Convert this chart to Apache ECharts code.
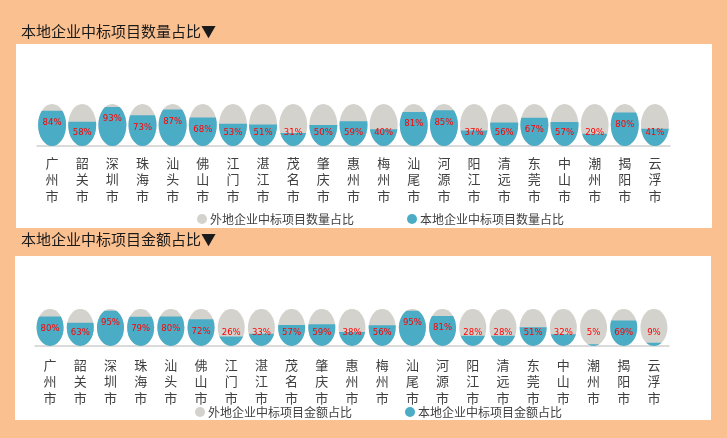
<!DOCTYPE html>
<html>
<head>
<meta charset="utf-8">
<script src="https://cdn.jsdelivr.net/npm/echarts@6/dist/echarts.min.js"></script>
<style>
html,body{margin:0;padding:0;background:#FAC090;}
#c{width:727px;height:438px;}
</style>
</head>
<body>
<div id="c"></div>
<script>
const cities = ['广州市','韶关市','深圳市','珠海市','汕头市','佛山市','江门市','湛江市','茂名市','肇庆市','惠州市','梅州市','汕尾市','河源市','阳江市','清远市','东莞市','中山市','潮州市','揭阳市','云浮市'];
const localCountShare = [84,58,93,73,87,68,53,51,31,50,59,40,81,85,37,56,67,57,29,80,41];
const localAmountShare = [80,63,95,79,80,72,26,33,57,59,38,56,95,81,28,28,51,32,5,69,9];
const titles = ['本地企业中标项目数量占比▼','本地企业中标项目金额占比▼'];
const foreignNames = ['外地企业中标项目数量占比','外地企业中标项目金额占比'];
const localNames = ['本地企业中标项目数量占比','本地企业中标项目金额占比'];

const BLUE = '#4BACC6', GRAY = '#D4D2CD';
const FONT = '"Noto Sans CJK SC","Noto Sans",sans-serif';

const grids = [
  {left: 37, width: 633, top: 104, height: 42},
  {left: 35, width: 634, top: 309, height: 37}
];
const symW = [28, 27];
const datasets = [localCountShare, localAmountShare];

const xAxis = [], yAxis = [], series = [], legend = [];
grids.forEach((g, i) => {
  xAxis.push({
    type: 'category', gridIndex: i, data: cities,
    axisLine: {lineStyle: {color: '#D0D0D0', width: 1.5}},
    axisTick: {show: false},
    axisLabel: {
      interval: 0, margin: i === 0 ? 9 : 11,
      fontSize: 13, lineHeight: 16.3, color: '#404040', fontFamily: FONT,
      formatter: v => v.split('').join('\n')
    }
  });
  yAxis.push({type: 'value', gridIndex: i, min: 0, max: 100, show: false, splitLine: {show: false}});
  const local = datasets[i];
  series.push({
    name: foreignNames[i], type: 'pictorialBar', xAxisIndex: i, yAxisIndex: i,
    symbol: 'circle', symbolSize: [symW[i], '100%'], symbolBoundingData: 100,
    barWidth: symW[i], barGap: '-100%', z: 1,
    itemStyle: {color: GRAY},
    data: local.map(v => 100 - v)
  });
  series.push({
    name: localNames[i], type: 'pictorialBar', xAxisIndex: i, yAxisIndex: i,
    symbol: 'circle', symbolSize: [symW[i], '100%'], symbolBoundingData: 100, symbolClip: true,
    barWidth: symW[i], barGap: '-100%', z: 2,
    itemStyle: {color: BLUE},
    data: local.map(v => {
      const px = v / 100 * g.height;
      const centerFromBottom = Math.max(px - 12, 13);
      return {
        value: v,
        label: {position: 'insideBottom', distance: centerFromBottom - 5}
      };
    }),
    label: {
      show: true, formatter: '{c}%', color: '#FF0000', fontSize: 9.5,
      fontFamily: '"Liberation Sans Narrow", "DejaVu Sans Condensed", "Liberation Sans", sans-serif'
    }
  });
  legend.push({
    data: [foreignNames[i], localNames[i]],
    left: i === 0 ? 192 : 190, top: i === 0 ? 208 : 401,
    itemWidth: 10, itemHeight: 10, itemGap: 53, icon: 'circle',
    textStyle: {fontSize: 12, color: '#404040', fontFamily: FONT, padding: [0, 0, 0, -2]}
  });
});

const chart = echarts.init(document.getElementById('c'));
chart.setOption({
  backgroundColor: '#FAC090',
  animation: false,
  title: [
    {text: titles[0], left: 16, top: 19, textStyle: {fontSize: 15, fontWeight: 'normal', color: '#1a1a1a', fontFamily: FONT}},
    {text: titles[1], left: 16, top: 227, textStyle: {fontSize: 15, fontWeight: 'normal', color: '#1a1a1a', fontFamily: FONT}}
  ],
  graphic: [
    {type: 'rect', shape: {x: 16, y: 44, width: 696, height: 184}, style: {fill: '#FFFFFF'}, z: -10, silent: true},
    {type: 'rect', shape: {x: 15, y: 256, width: 696, height: 164}, style: {fill: '#FFFFFF'}, z: -10, silent: true}
  ],
  legend: legend,
  grid: grids,
  xAxis: xAxis,
  yAxis: yAxis,
  series: series
});
</script>
</body>
</html>
